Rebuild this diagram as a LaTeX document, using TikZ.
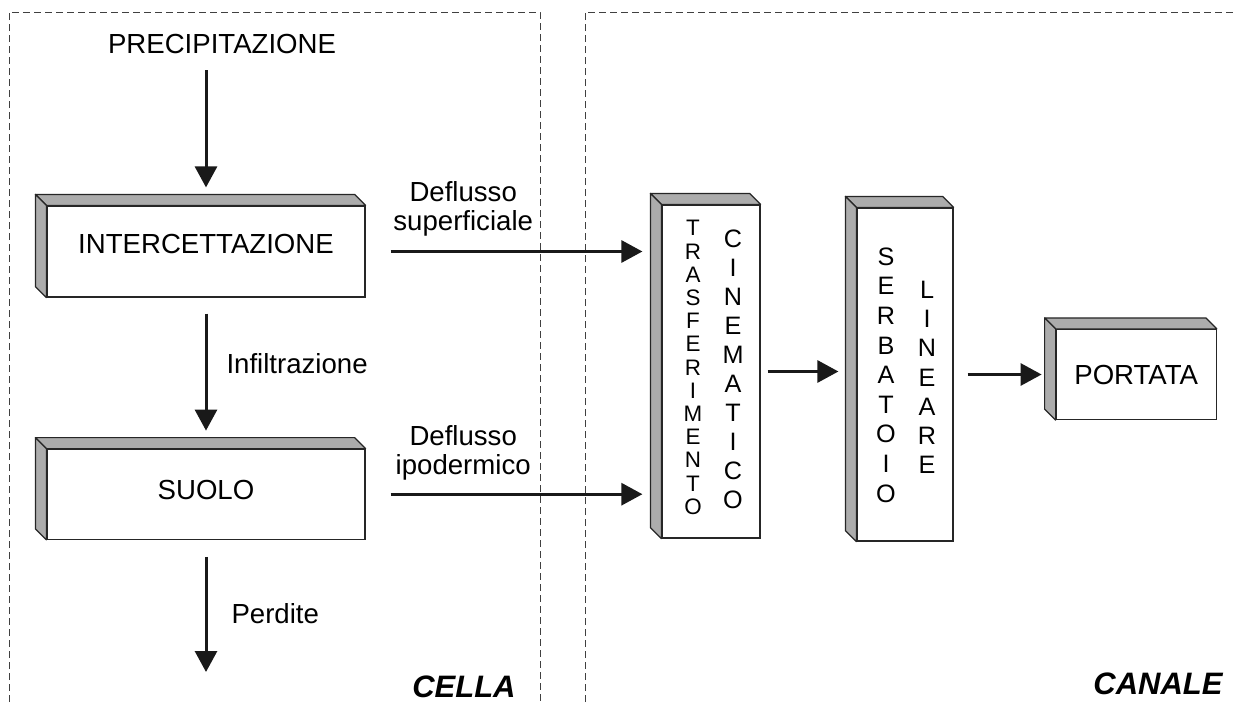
\documentclass[tikz,border=0pt]{standalone}
\usepackage{fontspec}
\setmainfont{Liberation Sans}
\usetikzlibrary{arrows.meta, positioning}
\tikzset{
freccia/.style={-{Triangle[length=10.5pt, width=11pt]}, line width=1.5pt, draw=black!90}, % thick arrows with solid heads
blocco/.style={draw=black!85, fill=white, line width=0.6pt, inner sep=0pt, font=\fontsize{13.8}{16}\selectfont}, % front face of a block
fianco/.style={draw=black!85, fill=gray!65, line width=0.6pt, line join=round}, % grey side of a block
etichetta/.style={inner sep=0pt, align=center, font=\fontsize{13.8}{14.5}\selectfont}, % plain text
pila/.style={inner sep=0pt, align=center}, % letters stacked in a column
riquadro/.style={dash pattern=on 3.5pt off 2pt, line width=0.5pt, draw=black!75}, % dashed frames
titolo/.style={inner sep=0pt, font=\fontsize{15.5}{18}\selectfont\bfseries\itshape},
}

\begin{document}
\begin{tikzpicture}[x=0.5pt, y=-0.5pt]
    \useasboundingbox (0,0) rectangle (1237,702);

    % the two frames
    \draw[riquadro] (9,702) -- (9,12) -- (540,12) -- (540,702);
    \draw[riquadro] (585,702) -- (585,12) -- (1236,12);

    \node[etichetta] (prec) at (222,44) {PRECIPITAZIONE};
    \node[blocco, minimum width=159pt, minimum height=45.5pt, text height=9.9pt, text depth=8pt] (int) at (206,251.5) {INTERCETTAZIONE};
    \node[blocco, below=75.5pt of int, minimum width=159pt, minimum height=45pt, text height=9.9pt, text depth=5pt] (suolo) {SUOLO};
    \node[blocco, minimum width=49pt, minimum height=166.5pt] (tc) at (711,371.5) {};
    \node[blocco, minimum width=48pt, minimum height=166.5pt] (sl) at (905,374.5) {};
    \node[blocco, right=51pt of sl, minimum width=80pt, minimum height=45pt] (port) {PORTATA};

    % grey sides
    \foreach \b in {int,suolo,tc,sl,port}{
        \draw[fianco] (\b.north west) -- ++(-5.5pt,5.5pt) -- ([shift={(-5.5pt,5.5pt)}]\b.north east) -- (\b.north east) -- cycle;
        \draw[fianco] (\b.north west) -- ++(-5.5pt,5.5pt) -- ([shift={(-5.5pt,5.5pt)}]\b.south west) -- (\b.south west) -- cycle;
    }

    \node[pila, font=\fontsize{11.2}{11.6}\selectfont] (trasf) at (693,367.5) {T\\R\\A\\S\\F\\E\\R\\I\\M\\E\\N\\T\\O};
    \node[pila, font=\fontsize{12.6}{14.5}\selectfont] (cine) at (733,369) {C\\I\\N\\E\\M\\A\\T\\I\\C\\O};
    \node[pila, font=\fontsize{12.6}{14.8}\selectfont] (serb) at (886,375) {S\\E\\R\\B\\A\\T\\O\\I\\O};
    \node[pila, font=\fontsize{12.6}{14.6}\selectfont] (line) at (927,377.5) {L\\I\\N\\E\\A\\R\\E};

    \coordinate (fine) at (206,672);

    \draw[freccia, shorten <=8pt, shorten >=9pt] (prec.south -| int.north) -- (int.north);

    \draw[freccia, shorten <=8pt, shorten >=9pt]
    (int.south) -- (suolo.north) node[etichetta, pos=0.44, right=9.5pt] (infil) {Infiltrazione};

    \draw[freccia, shorten <=8.5pt]
    (suolo.south) -- (fine) node[etichetta, pos=0.56, right=12pt] (perd) {Perdite};

    \draw[freccia, shorten <=12.5pt, shorten >=9.5pt]
    (int.east) -- (int.east -| tc.west) node[etichetta, pos=0.33, above=6.8pt] (defsup) {Deflusso\\superficiale};

    \draw[freccia, shorten <=12.5pt, shorten >=9.5pt]
    (suolo.east) -- (suolo.east -| tc.west) node[etichetta, pos=0.33, above=6.2pt] (defipo) {Deflusso\\ipodermico};

    \draw[freccia, shorten <=3.5pt, shorten >=9pt] (tc.east) -- (tc.east -| sl.west);
    \draw[freccia, shorten <=7pt, shorten >=7pt] (sl.east) -- (sl.east -| port.west);

    \node[titolo, anchor=east] (cella) at (516,687) {CELLA};
    \node[titolo, anchor=east] (canale) at (1223,684) {CANALE};

\end{tikzpicture}
\end{document}
